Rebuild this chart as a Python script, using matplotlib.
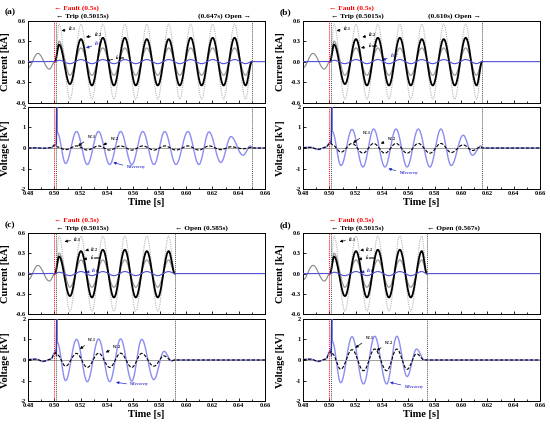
import numpy as np
import matplotlib
matplotlib.use('Agg')
import matplotlib.pyplot as plt
import matplotlib.transforms as mtransforms
from matplotlib.ticker import MultipleLocator, FixedLocator

plt.rcParams['font.family'] = ['Liberation Serif', 'DejaVu Serif']
plt.rcParams['font.weight'] = 'bold'
plt.rcParams['mathtext.fontset'] = 'stix'
plt.rcParams['axes.unicode_minus'] = False

# ---------------- data ----------------
PANELS = ['(a)', '(b)', '(c)', '(d)']
X_TICKS = [0.48, 0.50, 0.52, 0.54, 0.56, 0.58, 0.60, 0.62, 0.64, 0.66]
CUR_TICKS = [-0.6, -0.3, 0.0, 0.3, 0.6]
VOL_TICKS = [-2, -1, 0, 1, 2]

FAULT_T = 0.5
TRIP_T = 0.5015
OPEN_LABEL = ['0.647s', '0.610s', '0.585s', '0.567s']
OPEN_LINE_T = [0.650, 0.616, 0.5915, 0.574]

# pre-fault load current
PRE_T = [0.480, 0.4875, 0.4962, 0.5005]
PRE_I = [-0.09, 0.12, -0.11, 0.0]

# post-fault current extrema (identical in all cases until opening)
CUR_T = [0.5035, 0.5118, 0.5202, 0.5285, 0.5368, 0.5452, 0.5535, 0.5618, 0.5702,
         0.5785, 0.5868, 0.5952, 0.6035, 0.6118, 0.6202, 0.6285, 0.6368, 0.6452]
I_L1 = [0.55, -0.55, 0.55, -0.55, 0.55, -0.55, 0.55, -0.55, 0.55,
        -0.55, 0.55, -0.55, 0.55, -0.55, 0.55, -0.55, 0.55, -0.55]
I_L2 = [0.25, -0.33, 0.33, -0.35, 0.35, -0.35, 0.35, -0.35, 0.33,
        -0.35, 0.33, -0.35, 0.35, -0.35, 0.35, -0.35, 0.35, -0.35]
I_SUM = [0.30, -0.20, 0.20, -0.20, 0.20, -0.20, 0.20, -0.20, 0.20,
         -0.20, 0.20, -0.20, 0.20, -0.20, 0.20, -0.20, 0.20, -0.20]
I_SC = [0.02, -0.03, 0.03, -0.03, 0.03, -0.03, 0.03, -0.03, 0.03,
        -0.03, 0.03, -0.03, 0.03, -0.03, 0.03, -0.03, 0.03, -0.03]

# pre-fault voltages
PRE_VT = [0.480, 0.4855, 0.4915, 0.4975]
PRE_VR = [[0.0, 0.01, -0.01, 0.01], [0.03, 0.04, -0.08, 0.05],
          [0.03, 0.05, -0.08, 0.05], [0.03, 0.05, -0.08, 0.05]]
PRE_VL = [[0.0, 0.01, -0.01, 0.01], [0.02, 0.03, -0.06, 0.04],
          [0.02, 0.04, -0.06, 0.04], [0.02, 0.04, -0.06, 0.04]]

# spike at trip
SPK_T = [0.5000, 0.5010, 0.5015, 0.5017, 0.5022]
SPK_VR = [[0.10, 0.15, 0.10, 2.6, 0.75], [0.25, 0.35, 0.20, 2.6, 0.80],
          [0.35, 0.50, 0.30, 2.6, 0.85], [0.40, 0.55, 0.30, 2.6, 0.90]]
SPK_VL = [[0.15, 0.10, 0.08, 0.08, 0.05], [0.20, 0.25, 0.20, 0.20, 0.15],
          [0.30, 0.35, 0.30, 0.30, 0.25], [0.35, 0.40, 0.35, 0.35, 0.30]]

# recovery voltage extrema per case
VR_T = [
    [0.5085, 0.5168, 0.5250, 0.5335, 0.5420, 0.5503, 0.5588, 0.5671, 0.5756,
     0.5838, 0.5923, 0.6014, 0.6097, 0.6174, 0.6264, 0.6341, 0.6432, 0.6490],
    [0.5088, 0.5172, 0.5255, 0.5336, 0.5422, 0.5506, 0.5590, 0.5675, 0.5763,
     0.5847, 0.5925, 0.6016, 0.6087, 0.6150],
    [0.5085, 0.5168, 0.5250, 0.5336, 0.5420, 0.5503, 0.5588, 0.5663, 0.5755,
     0.5833, 0.5890],
    [0.5086, 0.5172, 0.5259, 0.5344, 0.5435, 0.5512, 0.5590, 0.5662, 0.5720],
]
VR_V = [
    [-0.75, 0.80, -0.80, 0.80, -0.80, 0.80, -0.80, 0.80, -0.80,
     0.80, -0.80, 0.80, -0.80, 0.78, -0.70, 0.55, -0.35, 0.10],
    [-0.85, 0.90, -0.92, 0.92, -0.92, 0.92, -0.92, 0.92, -0.92,
     0.92, -0.85, 0.62, -0.35, 0.10],
    [-1.00, 1.00, -1.05, 1.02, -1.05, 1.02, -1.02, 1.00, -0.95, 0.42, -0.05],
    [-1.10, 1.13, -1.16, 1.15, -1.16, 1.15, -0.80, 0.53, 0.02],
]
VL_V = [
    [-0.08, 0.10, -0.10, 0.10, -0.10, 0.10, -0.10, 0.10, -0.10,
     0.10, -0.10, 0.10, -0.10, 0.10, -0.08, 0.06, -0.04, 0.02],
    [-0.20, 0.22, -0.25, 0.22, -0.25, 0.22, -0.25, 0.22, -0.25,
     0.22, -0.22, 0.15, -0.12, 0.05],
    [-0.30, 0.32, -0.36, 0.33, -0.36, 0.33, -0.36, 0.32, -0.30, 0.20, -0.03],
    [-0.45, 0.50, -0.52, 0.53, -0.52, 0.53, -0.45, 0.30, 0.00],
]

# ---------------- helpers ----------------
def smooth(ts, vs, n=24):
    xs, ys = [ts[0]], [vs[0]]
    for t0, t1, v0, v1 in zip(ts[:-1], ts[1:], vs[:-1], vs[1:]):
        s = np.linspace(0, 1, n)[1:]
        xs.extend(t0 + (t1 - t0) * s)
        ys.extend(v0 + (v1 - v0) * (1 - np.cos(np.pi * s)) / 2)
    return np.array(xs), np.array(ys)


def post_current(vals, t_open):
    ts = [0.5005] + [t for t in CUR_T if t < t_open - 0.0015] + [t_open]
    vs = [0.0] + [v for t, v in zip(CUR_T, vals) if t < t_open - 0.0015] + [0.0]
    return smooth(ts, vs)


# label layout (text position, arrow target) per panel
CUR_ANN = [
    {'L1': ((0.5103, 0.49), (0.5055, 0.45)), 'L2': ((0.5297, 0.39), (0.5240, 0.36)),
     'SC': ((0.5304, 0.265), (0.5240, 0.20)), 'sum': ((0.5464, 0.06), (0.5395, 0.01))},
    {'L1': ((0.5103, 0.49), (0.5055, 0.45)), 'L2': ((0.5293, 0.39), (0.5250, 0.36)),
     'sum': ((0.5290, 0.24), (0.5240, 0.20)), 'SC': ((0.5460, 0.09), (0.5404, 0.02))},
    {'L1': ((0.5142, 0.50), (0.5077, 0.47)), 'L2': ((0.5267, 0.36), (0.5234, 0.34)),
     'sum': ((0.5267, 0.24), (0.5220, 0.21)), 'SC': ((0.5280, 0.04), (0.5240, 0.02))},
    {'L1': ((0.5142, 0.50), (0.5077, 0.47)), 'L2': ((0.5267, 0.36), (0.5234, 0.34)),
     'sum': ((0.5267, 0.24), (0.5220, 0.21)), 'SC': ((0.5280, 0.04), (0.5240, 0.02))},
]
VOL_ANN = [
    {'L1': ((0.5245, 0.54), (0.5180, 0.10)), 'L2': ((0.5420, 0.41), (0.5370, 0.14)),
     'R': ((0.5540, -1.0), (0.5447, -0.70))},
    {'L1': ((0.5250, 0.70), (0.5180, 0.25)), 'L2': ((0.5435, 0.41), (0.5390, 0.22)),
     'R': ((0.5525, -1.27), (0.5448, -1.0))},
    {'L1': ((0.5250, 0.97), (0.5194, 0.53)), 'L2': ((0.5439, 0.62), (0.5390, 0.37)),
     'R': ((0.5569, -1.25), (0.5468, -1.08))},
    {'L1': ((0.5267, 1.07), (0.5197, 0.59)), 'L2': ((0.5414, 0.81), (0.5358, 0.46)),
     'R': ((0.5564, -1.36), (0.5460, -1.08))},
]

C_L1 = '#b4b4b4'
C_SUM = '#9a9a9a'
C_PRE = '#858585'
C_SC = '#5050d8'
C_VR = '#8c8cf2'

fig = plt.figure(figsize=(5.5, 4.28), dpi=100)
LEFTS = [0.051, 0.551, 0.051, 0.551]
CUR_BOT = [0.7605, 0.7605, 0.2652, 0.2652]
VOL_BOT = [0.5577, 0.5577, 0.0624, 0.0624]
W = 0.431
HC = 0.1911
HV = 0.193
TICK_FS = 4.6
LAB_FS = 7.5


def style_axis(ax, ylim, yticks, show_x):
    ax.set_xlim(0.48, 0.66)
    ax.set_ylim(*ylim)
    ax.xaxis.set_major_locator(FixedLocator(X_TICKS))
    ax.xaxis.set_minor_locator(MultipleLocator(0.01))
    ax.yaxis.set_major_locator(FixedLocator(yticks))
    ax.tick_params(which='both', direction='in', labelsize=TICK_FS, width=0.6,
                   top=False, right=False, pad=1.5)
    ax.tick_params(which='major', length=2.5)
    ax.tick_params(which='minor', length=1.5)
    for sp in ax.spines.values():
        sp.set_linewidth(0.7)
    if not show_x:
        ax.tick_params(labelbottom=False)
    for lab in ax.get_xticklabels() + ax.get_yticklabels():
        lab.set_fontweight('bold')


def arrow_label(ax, text, xy_text, xy, color='black', fs=4.3):
    ax.annotate(text, xy=xy, xytext=xy_text, fontsize=fs, color=color,
                ha='left', va='center',
                arrowprops=dict(arrowstyle='-|>', lw=0.5, color=color,
                                mutation_scale=4, shrinkA=0, shrinkB=0))


for p in range(4):
    t_open = OPEN_LINE_T[p]
    axc = fig.add_axes([LEFTS[p], CUR_BOT[p], W, HC])
    axv = fig.add_axes([LEFTS[p], VOL_BOT[p], W, HV])

    # ---- currents ----
    x, y = smooth(PRE_T, PRE_I)
    axc.plot(x, y, color=C_PRE, lw=0.8, zorder=2)
    x, y = post_current(I_L1, t_open)
    axc.plot(x, y, color=C_L1, lw=0.8, ls=(0, (1, 1)), zorder=2)
    x, y = post_current(I_SUM, t_open)
    axc.plot(x, y, color=C_SUM, lw=0.9, zorder=3)
    x, y = post_current(I_L2, t_open)
    axc.plot(x, y, color='black', lw=1.3, zorder=4)
    x, y = post_current(I_SC, t_open)
    axc.plot([0.48] + list(x) + [0.66], [0.0] + list(y) + [0.0],
             color=C_SC, lw=0.8, zorder=5)

    # ---- voltages ----
    vt = PRE_VT + SPK_T + VR_T[p] + [t_open, 0.66]
    vr = PRE_VR[p] + SPK_VR[p] + VR_V[p] + [0.0, 0.0]
    vl = PRE_VL[p] + SPK_VL[p] + VL_V[p] + [0.0, 0.0]
    axv.axhline(0, color='#909090', lw=0.6, zorder=1)
    x, y = smooth(vt, vr)
    axv.plot(x, y, color=C_VR, lw=1.0, zorder=3)
    axv.plot([TRIP_T, TRIP_T + 0.0002], [0.2, 2.0], color='#2020c0', lw=0.9, zorder=4)
    x, y = smooth(vt, vl)
    axv.plot(x, y, color='black', lw=0.8, ls=(0, (3, 1.5)), zorder=4)

    for ax in (axc, axv):
        ax.axvline(FAULT_T, color='red', lw=0.7, ls=(0, (1, 1)), zorder=6)
        ax.axvline(TRIP_T, color='#505050', lw=0.7, ls=(0, (1, 1)), zorder=6)
        ax.axvline(t_open, color='#505050', lw=0.7, ls=(0, (1, 1)), zorder=6)

    style_axis(axc, (-0.6, 0.6), CUR_TICKS, False)
    axc.yaxis.set_major_formatter(matplotlib.ticker.FormatStrFormatter('%.1f'))
    style_axis(axv, (-2, 2), VOL_TICKS, True)
    axv.xaxis.set_major_formatter(matplotlib.ticker.FormatStrFormatter('%.2f'))
    for lab in axc.get_yticklabels() + axv.get_yticklabels() + axv.get_xticklabels():
        lab.set_fontweight('bold')

    axc.set_ylabel('Current [kA]', fontsize=LAB_FS, fontweight='bold')
    axv.set_ylabel('Voltage [kV]', fontsize=LAB_FS, fontweight='bold')
    axc.yaxis.set_label_coords(-0.075, 0.5)
    axv.yaxis.set_label_coords(-0.075, 0.5)
    axv.set_xlabel('Time [s]', fontsize=LAB_FS, fontweight='bold', labelpad=1)

    # ---- top annotations ----
    tr = mtransforms.blended_transform_factory(axc.transData, axc.transAxes)
    axc.text(FAULT_T, 1.15, '\u2190 Fault (0.5s)', color='red', fontsize=5.3,
             fontweight='bold', ha='left', va='center', transform=tr)
    axc.text(TRIP_T, 1.055, '\u2190 Trip (0.5015s)', color='black', fontsize=5.3,
             fontweight='bold', ha='left', va='center', transform=tr)
    if p < 2:
        axc.text(t_open - 0.001, 1.055, '(' + OPEN_LABEL[p] + ') Open \u2192', fontsize=5.3,
                 fontweight='bold', ha='right', va='center', transform=tr)
    else:
        axc.text(t_open, 1.055, '\u2190 Open (' + OPEN_LABEL[p] + ')', fontsize=5.3,
                 fontweight='bold', ha='left', va='center', transform=tr)

    # ---- series labels ----
    ca = CUR_ANN[p]
    arrow_label(axc, r'$i_{L1}$', ca['L1'][0], ca['L1'][1])
    arrow_label(axc, r'$i_{L2}$', ca['L2'][0], ca['L2'][1])
    arrow_label(axc, r'$i_{sum}$', ca['sum'][0], ca['sum'][1])
    arrow_label(axc, r'$i_{SC}$', ca['SC'][0], ca['SC'][1], color='#2a2ad0')
    va = VOL_ANN[p]
    arrow_label(axv, r'$v_{L1}$', va['L1'][0], va['L1'][1])
    arrow_label(axv, r'$v_{L2}$', va['L2'][0], va['L2'][1])
    arrow_label(axv, r'$v_{Recovery}$', va['R'][0], va['R'][1], color='#2a2ad0')

    fx = 0.009 if p % 2 == 0 else 0.509
    fy = 0.972 if p < 2 else 0.474
    fig.text(fx, fy, PANELS[p], fontsize=6.8, fontweight='bold', ha='left', va='center')

fig.savefig('out.png', dpi=100)
